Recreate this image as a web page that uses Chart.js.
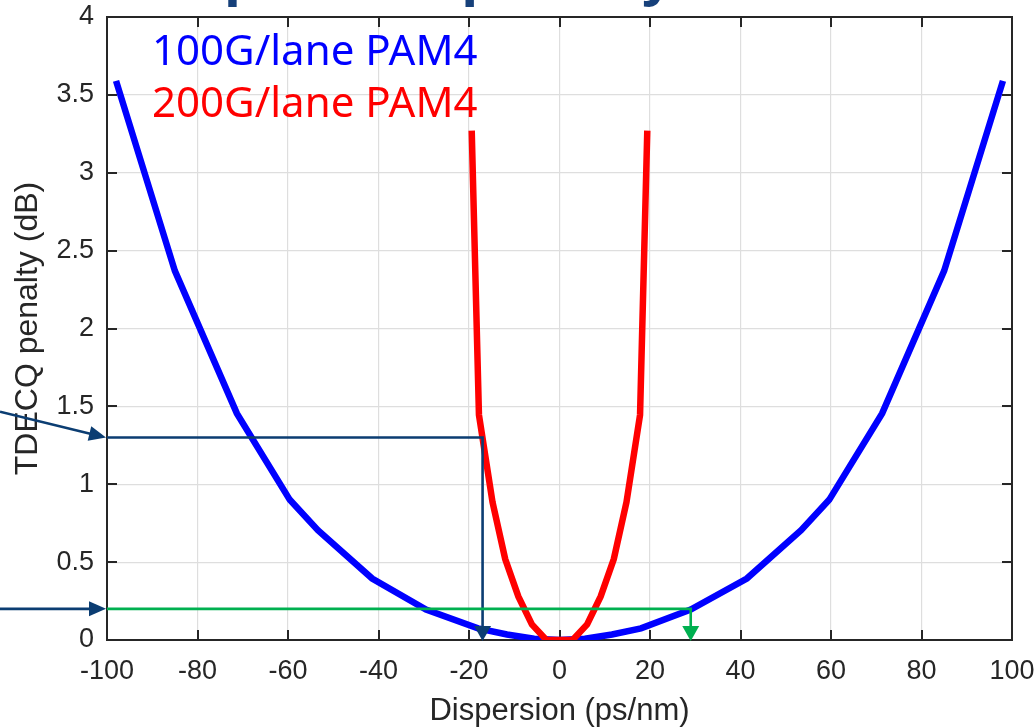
<!DOCTYPE html>
<html>
<head>
<meta charset="utf-8">
<script src="https://cdn.jsdelivr.net/npm/chart.js@4/dist/chart.umd.min.js"></script>
<style>
  html,body{margin:0;padding:0;background:#fff;}
  #c{display:block;}
</style>
</head>
<body>
<canvas id="c" width="1036" height="727"></canvas>
<script>
// ---- data ----
const xTicks = [-100, -80, -60, -40, -20, 0, 20, 40, 60, 80, 100];
const yTicks = [0, 0.5, 1, 1.5, 2, 2.5, 3, 3.5, 4];

const series100Label = '100G/lane PAM4';
const series100X = [-98, -85, -71.3, -59.6, -53.4, -41.4, -29.5, -18, -11.6, -5.6, 0, 5.6, 11.6, 18, 29, 41.4, 53.4, 59.6, 71.3, 85, 98];
const series100Y = [3.59, 2.37, 1.455, 0.9, 0.705, 0.395, 0.195, 0.075, 0.035, 0.008, 0, 0.008, 0.035, 0.075, 0.195, 0.395, 0.705, 0.9, 1.455, 2.37, 3.59];

const series200Label = '200G/lane PAM4';
const series200X = [-19.4, -17.8, -14.8, -12, -9.1, -6.1, -2.9, 2.9, 6.1, 9.1, 12, 14.8, 17.8, 19.4];
const series200Y = [3.27, 1.445, 0.885, 0.52, 0.28, 0.1, 0, 0, 0.1, 0.28, 0.52, 0.885, 1.445, 3.27];

// annotation guides: penalty level -> dispersion reach
const guidePenalty = [1.3, 0.2];
const guideReach = [-17, 29];
const guideEntryStart = [1.466, 0.2];   // y value where the incoming arrows start at the page edge
const guideColors = ['#0b3d72', '#00b050'];

const titleFragment = 'Dispersion penalty';

const FONT = "'Liberation Sans', Arial, sans-serif";
const AXIS = '#262626';

function arrowHead(ctx, tipX, tipY, dirX, dirY, len, half, color){
  const n = Math.hypot(dirX, dirY); const ux = dirX/n, uy = dirY/n;
  const bx = tipX - ux*len, by = tipY - uy*len;
  ctx.beginPath();
  ctx.moveTo(tipX, tipY);
  ctx.lineTo(bx - uy*half, by + ux*half);
  ctx.lineTo(bx + uy*half, by - ux*half);
  ctx.closePath();
  ctx.fillStyle = color; ctx.fill();
}

const overlay = {
  id: 'overlay',
  beforeDatasetsDraw(chart){
    const {ctx, chartArea:a, scales:{x, y}} = chart;
    ctx.save();
    ctx.strokeStyle = AXIS; ctx.lineWidth = 2;
    ctx.strokeRect(a.left, a.top, a.right - a.left, a.bottom - a.top);
    ctx.beginPath();
    xTicks.forEach(v => {
      if (v === x.min || v === x.max) return;
      const px = Math.round(x.getPixelForValue(v));
      ctx.moveTo(px, a.bottom); ctx.lineTo(px, a.bottom - 10);
      ctx.moveTo(px, a.top); ctx.lineTo(px, a.top + 10);
    });
    yTicks.forEach(v => {
      if (v === y.min || v === y.max) return;
      const py = Math.round(y.getPixelForValue(v));
      ctx.moveTo(a.left, py); ctx.lineTo(a.left + 10, py);
      ctx.moveTo(a.right, py); ctx.lineTo(a.right - 10, py);
    });
    ctx.stroke();
    ctx.restore();
  },
  afterDatasetsDraw(chart){
    const {ctx, chartArea:a, scales:{x, y}} = chart;
    ctx.save();
    guidePenalty.forEach((p, i) => {
      const col = guideColors[i];
      const py = y.getPixelForValue(p);
      const px = x.getPixelForValue(guideReach[i]);
      const py0 = y.getPixelForValue(0);
      ctx.strokeStyle = col; ctx.lineWidth = 2.6; ctx.lineJoin = 'miter';
      ctx.beginPath();
      ctx.moveTo(a.left, py); ctx.lineTo(px, py); ctx.lineTo(px, py0 - 12);
      ctx.stroke();
      arrowHead(ctx, px, py0 + 1, 0, 1, 15, 8.5, col);
      const sy = y.getPixelForValue(guideEntryStart[i]);
      ctx.strokeStyle = guideColors[0];
      ctx.beginPath();
      const tipX = a.left - 1;
      const dx = tipX - 0, dy = py - sy;
      const n = Math.hypot(dx, dy);
      ctx.moveTo(0, sy); ctx.lineTo(tipX - dx/n*12, py - dy/n*12);
      ctx.stroke();
      arrowHead(ctx, tipX, py, dx, dy, 17, 7.5, guideColors[0]);
    });
    ctx.font = "42px 'Noto Sans', 'Open Sans', sans-serif";
    ctx.textAlign = 'left'; ctx.textBaseline = 'alphabetic';
    chart.data.datasets.forEach((ds, i) => {
      ctx.fillStyle = ds.borderColor;
      ctx.fillText(ds.label, 152, 65 + i*52);
    });
    ctx.restore();
  },
  afterDraw(chart){
    const ctx = chart.ctx;
    ctx.save();
    ctx.font = "bold 61px " + FONT;
    ctx.fillStyle = '#16407a';
    ctx.textAlign = 'left'; ctx.textBaseline = 'alphabetic';
    ctx.fillText(titleFragment, 129, -6);
    ctx.restore();
  }
};

const toPts = (xs, ys) => xs.map((v, i) => ({x: v, y: ys[i]}));

new Chart(document.getElementById('c'), {
  type: 'scatter',
  data: {
    datasets: [
      {label: series100Label, data: toPts(series100X, series100Y), borderColor: '#0000ff', backgroundColor: '#0000ff',
       borderWidth: 6.5, pointRadius: 0, showLine: true, tension: 0, borderJoinStyle: 'miter', order: 2},
      {label: series200Label, data: toPts(series200X, series200Y), borderColor: '#ff0000', backgroundColor: '#ff0000',
       borderWidth: 6.5, pointRadius: 0, showLine: true, tension: 0, borderJoinStyle: 'miter', order: 1}
    ]
  },
  options: {
    responsive: false,
    animation: false,
    events: [],
    layout: {padding: {left: 0, right: 24, top: 17, bottom: 0}},
    plugins: {legend: {display: false}, tooltip: {enabled: false}},
    scales: {
      x: {
        type: 'linear', min: -100, max: 100,
        afterBuildTicks: s => { s.ticks = xTicks.map(v => ({value: v})); },
        afterFit: s => { s.height = 87; s.paddingLeft = 0; s.paddingRight = 0; },
        grid: {color: '#dedede', lineWidth: 1.2, drawTicks: false},
        border: {display: false},
        ticks: {padding: 15, color: AXIS, font: {family: FONT, size: 27}, maxRotation: 0, autoSkip: false,
                callback: v => String(v)},
        title: {display: true, text: 'Dispersion (ps/nm)', color: AXIS, font: {family: FONT, size: 31, lineHeight: 1}, padding: {top: 0, bottom: 0}}
      },
      y: {
        type: 'linear', min: 0, max: 4,
        afterBuildTicks: s => { s.ticks = yTicks.map(v => ({value: v})); },
        afterFit: s => { s.width = 107; s.paddingTop = 0; s.paddingBottom = 0; },
        grid: {color: '#dedede', lineWidth: 1.2, drawTicks: false},
        border: {display: false},
        ticks: {padding: 13, color: AXIS, font: {family: FONT, size: 27}, autoSkip: false,
                callback: v => String(v)},
        title: {display: true, text: 'TDECQ penalty (dB)', color: AXIS, font: {family: FONT, size: 32, lineHeight: 1}, padding: {top: 12, bottom: 0}}
      }
    }
  },
  plugins: [overlay]
});
</script>
</body>
</html>
